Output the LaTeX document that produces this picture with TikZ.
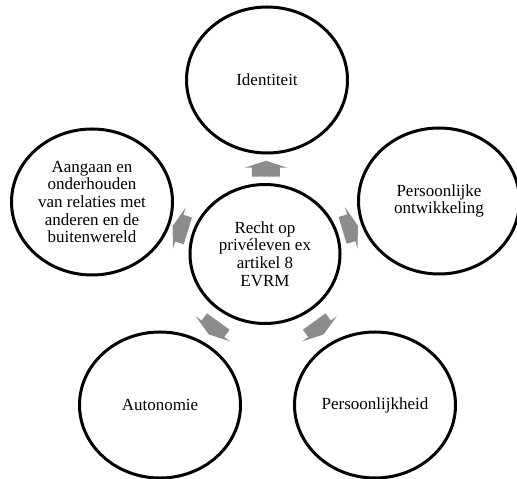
\documentclass[tikz,border=0pt]{standalone}
\usepackage{fontspec}
\setmainfont{Liberation Serif}
\usetikzlibrary{calc}
\usetikzlibrary{shapes.geometric}
\definecolor{arrowgray}{HTML}{8C8C8C}

\begin{document}
\begin{tikzpicture}[x=1pt, y=1pt,
  bubble/.style={ellipse, draw, line width=3pt, minimum width=161pt, minimum height=146pt,
    inner sep=0pt, align=center, font=\fontsize{17}{17.7}\selectfont},
  hub/.style={bubble, minimum width=150pt, minimum height=139pt},
  blockarrow/.style={fill=arrowgray}]

\useasboundingbox (0, 0) rectangle (517, 479);

\node[hub] (recht) at (265, 225) {Recht op\\priv\'eleven ex\\artikel 8\\EVRM};

\node[bubble] (ident) at (267, 399) {Identiteit};
\node[bubble] (ontw) at (439, 278) {Persoonlijke\\ontwikkeling};
\node[bubble] (pers) at (375, 74) {Persoonlijkheid};
\node[bubble] (auto) at (160, 74) {Autonomie};
\node[bubble] (relat) at (92, 277) {Aangaan en\\onderhouden\\van relaties met\\anderen en de\\buitenwereld};

\coordinate (a1) at ($(recht)!0.49!(ident)$);
\coordinate (a2) at ($(recht)!0.49!(ontw)$);
\coordinate (a3) at ($(recht)!0.49!(pers)$);
\coordinate (a4) at ($(recht)!0.49!(auto)$);
\coordinate (a5) at ($(recht)!0.49!(relat)$);

\fill[blockarrow, shift={(a1)}, rotate=90] (-8, -14) -- (1, -14) -- (1, -21.5) -- (8, 0) -- (1, 21.5) -- (1, 14) -- (-8, 14) -- cycle;
\fill[blockarrow, shift={(a2)}, rotate=17] (-8, -14) -- (1, -14) -- (1, -21.5) -- (8, 0) -- (1, 21.5) -- (1, 14) -- (-8, 14) -- cycle;
\fill[blockarrow, shift={(a3)}, rotate=-54] (-8, -14) -- (1, -14) -- (1, -21.5) -- (8, 0) -- (1, 21.5) -- (1, 14) -- (-8, 14) -- cycle;
\fill[blockarrow, shift={(a4)}, rotate=-126] (-8, -14) -- (1, -14) -- (1, -21.5) -- (8, 0) -- (1, 21.5) -- (1, 14) -- (-8, 14) -- cycle;
\fill[blockarrow, shift={(a5)}, rotate=163] (-8, -14) -- (1, -14) -- (1, -21.5) -- (8, 0) -- (1, 21.5) -- (1, 14) -- (-8, 14) -- cycle;

\end{tikzpicture}
\end{document}
